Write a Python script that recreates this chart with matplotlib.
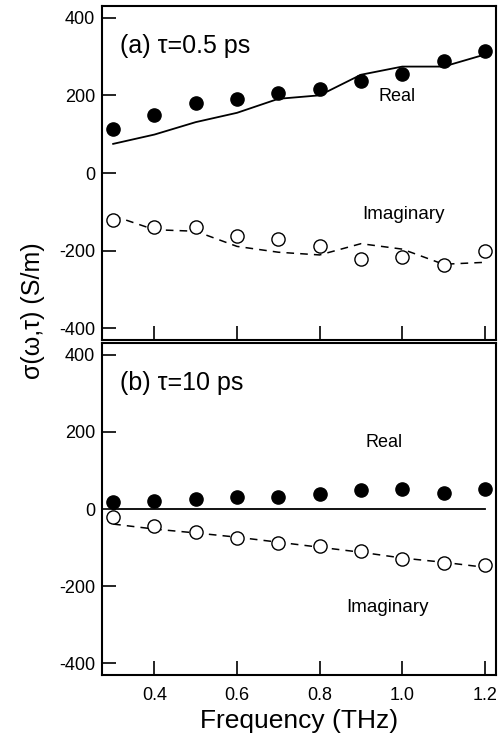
import numpy as np
import matplotlib
matplotlib.use('Agg')
import matplotlib.pyplot as plt

plt.rcParams['font.family'] = ['Liberation Sans', 'DejaVu Sans']
plt.rcParams['axes.unicode_minus'] = False

# frequency points (THz)
freq = [0.3, 0.4, 0.5, 0.6, 0.7, 0.8, 0.9, 1.0, 1.1, 1.2]

# panel (a) tau = 0.5 ps
real_a_pts = [114, 149, 179, 191, 206, 217, 236, 255, 289, 313]
real_a_fit = [75, 99, 131, 155, 191, 200, 253, 274, 274, 305]
imag_a_pts = [-120, -140, -140, -162, -169, -187, -221, -217, -237, -202]
imag_a_fit = [-110, -146, -150, -189, -204, -211, -182, -196, -235, -230]

# panel (b) tau = 10 ps
real_b_pts = [19, 22, 25, 30, 32, 40, 49, 51, 42, 53]
real_b_fit = [0, 0, 0, 0, 0, 0, 0, 0, 0, 0]
imag_b_pts = [-20, -43, -60, -75, -87, -96, -110, -129, -139, -145]
imag_b_fit = [-39, -52, -62, -73, -86, -99, -112, -127, -138, -151]

xticks = [0.4, 0.6, 0.8, 1.0, 1.2]
yticks = [-400, -200, 0, 200, 400]

fig = plt.figure(figsize=(5.03, 7.38), dpi=100)
ax1 = fig.add_axes([102/503, 1 - 340/738, 394/503, 334/738])
ax2 = fig.add_axes([102/503, 1 - 675/738, 394/503, 332/738])

panels = [
    (ax1, real_a_pts, real_a_fit, imag_a_pts, imag_a_fit, '(a) τ=0.5 ps',
     (0.943, 198), (0.904, -108)),
    (ax2, real_b_pts, real_b_fit, imag_b_pts, imag_b_fit, '(b) τ=10 ps',
     (0.911, 172), (0.865, -254)),
]

for ax, rp, rf, ip, ifit, title, real_pos, imag_pos in panels:
    ax.plot(freq, rf, color='black', lw=1.3, zorder=2)
    ax.plot(freq, ifit, color='black', lw=1.1, ls=(0, (5, 4)), zorder=2)
    ax.plot(freq, rp, 'o', color='black', ms=9.5, zorder=3)
    ax.plot(freq, ip, 'o', mfc='white', mec='black', mew=1.0, ms=9.5, zorder=3)
    ax.set_xlim(0.273, 1.227)
    ax.set_ylim(-430, 430)
    ax.set_xticks(xticks)
    ax.set_yticks(yticks)
    ax.tick_params(direction='in', length=10, width=1.2, labelsize=13)
    ax.tick_params(axis='y', pad=5)
    ax.tick_params(axis='x', pad=9)
    for s in ax.spines.values():
        s.set_linewidth(1.5)
    ax.text(0.045, 0.88, title, transform=ax.transAxes, fontsize=18,
            va='center', ha='left')
    ax.text(real_pos[0], real_pos[1], 'Real', fontsize=13, va='center', ha='left')
    ax.text(imag_pos[0], imag_pos[1], 'Imaginary', fontsize=13.5, va='center', ha='left')

ax1.set_xticklabels([])
ax2.set_xticklabels(['0.4', '0.6', '0.8', '1.0', '1.2'])
ax2.set_xlabel('Frequency (THz)', fontsize=19, labelpad=3)

fig.text(0.065, 1 - 311/738, 'σ(ω,τ) (S/m)', rotation=90,
         fontsize=18, va='center', ha='center')

fig.savefig('out.png', dpi=100)
